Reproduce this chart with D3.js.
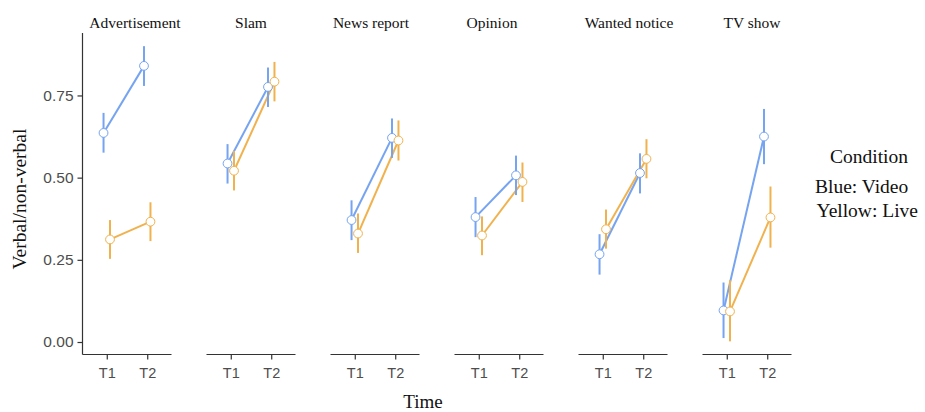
<!DOCTYPE html>
<html>
<head>
<meta charset="utf-8">
<script src="https://cdn.jsdelivr.net/npm/d3@7/dist/d3.min.js"></script>
<style>
  html, body { margin: 0; padding: 0; background: #fff; }
  svg { display: block; }
</style>
</head>
<body>
<svg id="chart" width="925" height="412"></svg>
<script>
// ---------- data ----------
const genres = ["Advertisement", "Slam", "News report", "Opinion", "Wanted notice", "TV show"];
const times = ["T1", "T2"];
const conditions = ["Video", "Live"];
const yTicks = [0.00, 0.25, 0.50, 0.75];

// means per genre: [T1, T2]
const videoMean = [[0.636, 0.840], [0.543, 0.776], [0.371, 0.621], [0.380, 0.507], [0.267, 0.514], [0.096, 0.625]];
const videoLow  = [[0.576, 0.779], [0.482, 0.715], [0.310, 0.560], [0.319, 0.447], [0.205, 0.452], [0.012, 0.541]];
const videoHigh = [[0.697, 0.900], [0.602, 0.835], [0.431, 0.680], [0.441, 0.567], [0.328, 0.574], [0.181, 0.709]];

const liveMean = [[0.312, 0.366], [0.521, 0.792], [0.330, 0.613], [0.324, 0.487], [0.343, 0.557], [0.093, 0.379]];
const liveLow  = [[0.253, 0.307], [0.461, 0.732], [0.271, 0.552], [0.264, 0.426], [0.284, 0.498], [0.002, 0.287]];
const liveHigh = [[0.371, 0.425], [0.581, 0.852], [0.391, 0.674], [0.382, 0.546], [0.403, 0.617], [0.188, 0.473]];

// ---------- layout / style ----------
const colors = { Video: "#76a4f0", Live: "#f0b24e" };
const plotTop = 33, plotBottom = 354.5;
const panelsLeft = 82.5, panelsRight = 791.5;
const titleNudge = [8, 0, -4, -7, 6, 5];
const dodge = 0.08;

const svg = d3.select("#chart");

const series = [
  { cond: "Video", mean: videoMean, low: videoLow, high: videoHigh, off: -dodge },
  { cond: "Live",  mean: liveMean,  low: liveLow,  high: liveHigh,  off: dodge }
];

const panel = d3.scaleBand().domain(genres).range([panelsLeft, panelsRight]).paddingInner(35 / 124).paddingOuter(0);
const y = d3.scaleLinear().domain([-0.038, 0.940]).range([plotBottom, plotTop]);

const serif = "'Liberation Serif', 'Times New Roman', serif";
const sans = "'Liberation Sans', Arial, sans-serif";

// Y axis (only first panel)
const yAxisG = svg.append("g").attr("transform", `translate(${panelsLeft},0)`)
  .call(d3.axisLeft(y).tickValues(yTicks).tickFormat(d3.format(".2f")).tickSize(5).tickPadding(4));
yAxisG.select(".domain").attr("d", `M0,${plotTop}V${plotBottom}`).attr("stroke", "#333").attr("stroke-width", 1.2);
yAxisG.selectAll(".tick line").attr("stroke", "#333").attr("stroke-width", 1.2);
yAxisG.selectAll(".tick text").attr("fill", "#4d4d4d").style("font-family", sans).style("font-size", "15.5px");

genres.forEach((g, gi) => {
  const x0 = panel(g), w = panel.bandwidth();
  const x = d3.scalePoint().domain(times).range([x0, x0 + w]).padding(0.6);
  const step = x.step();
  const xp = (ti, off) => x(times[ti]) + off * step;

  const pg = svg.append("g");

  // x axis
  const xa = pg.append("g").attr("transform", `translate(0,${plotBottom})`)
    .call(d3.axisBottom(x).tickSize(5).tickPadding(8));
  xa.select(".domain").attr("d", `M${x0},0H${x0 + w}`).attr("stroke", "#333").attr("stroke-width", 1.2);
  xa.selectAll(".tick line").attr("stroke", "#333").attr("stroke-width", 1.2);
  xa.selectAll(".tick text").attr("fill", "#4d4d4d").style("font-family", sans).style("font-size", "14.5px");

  // panel title
  pg.append("text").attr("x", x0 + w / 2 + titleNudge[gi]).attr("y", 27.5)
    .attr("text-anchor", "middle").style("font-family", serif).style("font-size", "15.5px")
    .attr("fill", "#111").text(g);

  const line = d3.line().x(d => d[0]).y(d => d[1]);

  // lines
  series.forEach(s => {
    const pts = times.map((t, ti) => [xp(ti, s.off), y(s.mean[gi][ti])]);
    pg.append("path").attr("d", line(pts)).attr("fill", "none")
      .attr("stroke", colors[s.cond]).attr("stroke-width", 2);
  });
  // error bars
  series.forEach(s => {
    times.forEach((t, ti) => {
      pg.append("line")
        .attr("x1", xp(ti, s.off)).attr("x2", xp(ti, s.off))
        .attr("y1", y(s.low[gi][ti])).attr("y2", y(s.high[gi][ti]))
        .attr("stroke", colors[s.cond]).attr("stroke-width", 2);
    });
  });
  // points
  series.forEach(s => {
    times.forEach((t, ti) => {
      pg.append("circle")
        .attr("cx", xp(ti, s.off)).attr("cy", y(s.mean[gi][ti])).attr("r", 4.4)
        .attr("fill", "#fff").attr("stroke", colors[s.cond]).attr("stroke-width", 1);
    });
  });
});

// axis titles
svg.append("text").attr("x", 423).attr("y", 407.5).attr("text-anchor", "middle")
  .style("font-family", serif).style("font-size", "19px").attr("fill", "#111").text("Time");
svg.append("text").attr("transform", "translate(26,199) rotate(-90)").attr("text-anchor", "middle")
  .style("font-family", serif).style("font-size", "19.5px").attr("fill", "#111").text("Verbal/non-verbal");

// legend
const lg = svg.append("g");
lg.append("text").attr("x", 869).attr("y", 162.5).attr("text-anchor", "middle")
  .style("font-family", serif).style("font-size", "19.5px").attr("fill", "#111").text("Condition");
lg.append("text").attr("x", 815).attr("y", 193).style("font-family", serif).style("font-size", "19.5px")
  .attr("fill", "#111").text("Blue: " + conditions[0]);
lg.append("text").attr("x", 816.5).attr("y", 217).style("font-family", serif).style("font-size", "19.5px")
  .attr("fill", "#111").text("Yellow: " + conditions[1]);
</script>
</body>
</html>
